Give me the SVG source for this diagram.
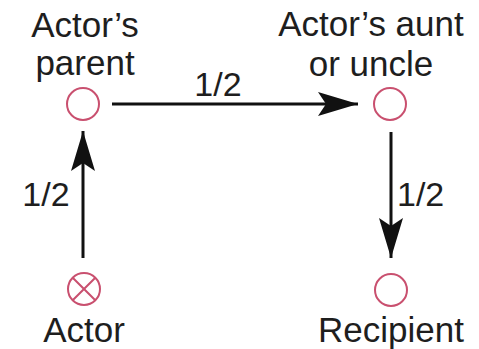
<svg xmlns="http://www.w3.org/2000/svg" width="479" height="349" viewBox="0 0 479 349">
<style>
.lbl{font-family:"Liberation Sans",Arial,sans-serif;font-size:35px;fill:#1e1e1e;text-anchor:middle}
.num{font-family:"Liberation Sans",Arial,sans-serif;font-size:34px;fill:#1e1e1e}
.node{fill:none;stroke:#c9506f;stroke-width:2}
.edge{stroke:#111;stroke-width:3;fill:none}
</style>
<defs>
<marker id="ah" viewBox="0 0 40 24" refX="40" refY="12" markerWidth="40" markerHeight="24" markerUnits="userSpaceOnUse" orient="auto">
<path d="M0,0 L40,12 L0,24 L8,12 Z" fill="#111"/>
</marker>
</defs>
<rect width="479" height="349" fill="#fff"/>
<g id="connectors">
<line class="edge" x1="112" y1="104" x2="358" y2="104" marker-end="url(#ah)"/>
<line class="edge" x1="83" y1="258" x2="83" y2="131" marker-end="url(#ah)"/>
<line class="edge" x1="391" y1="132" x2="391" y2="258" marker-end="url(#ah)"/>
<text class="num" x="218" y="96" text-anchor="middle">1/2</text>
<text class="num" x="46" y="206" text-anchor="middle">1/2</text>
<text class="num" x="397" y="206">1/2</text>
</g>
<g id="parent">
<circle class="node" cx="83" cy="104" r="16"/>
<text class="lbl" x="85" y="37">Actor’s</text>
<text class="lbl" x="85" y="75">parent</text>
</g>
<g id="aunt">
<circle class="node" cx="390" cy="104" r="16"/>
<text class="lbl" x="371" y="36">Actor’s aunt</text>
<text class="lbl" x="371" y="76">or uncle</text>
</g>
<g id="actor">
<circle class="node" cx="84" cy="289" r="16"/>
<path class="node" d="M72.7,277.7 L95.3,300.3 M95.3,277.7 L72.7,300.3"/>
<text class="lbl" x="84" y="342">Actor</text>
</g>
<g id="recipient">
<circle class="node" cx="391" cy="290" r="16"/>
<text class="lbl" x="391" y="342">Recipient</text>
</g>
</svg>
